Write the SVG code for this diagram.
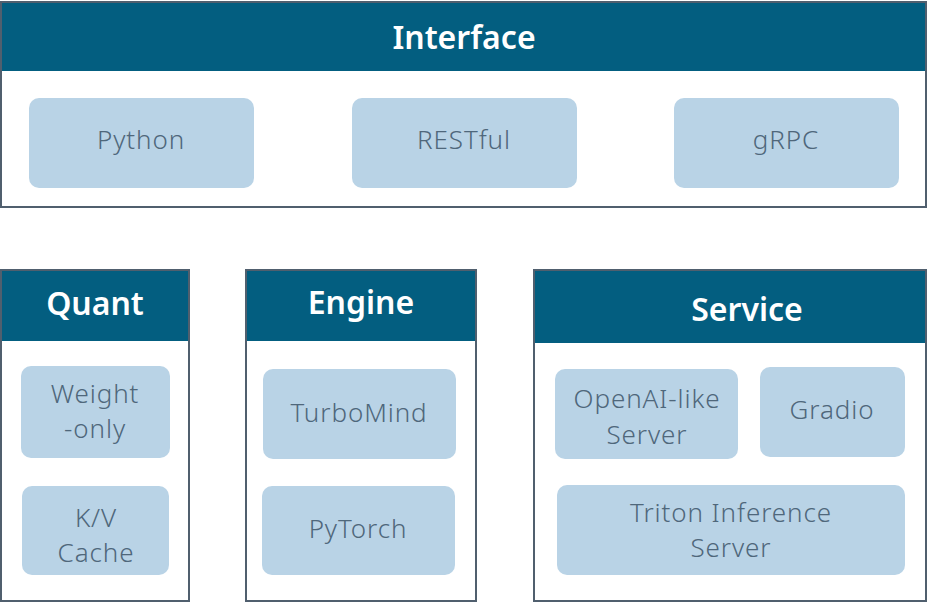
<svg xmlns="http://www.w3.org/2000/svg" width="928" height="602" viewBox="0 0 928 602">
<style>
.frame{fill:#ffffff;stroke:#505f6e;stroke-width:2}
.head{fill:#035e80}
.ht{font-family:"Noto Sans","Open Sans",sans-serif;font-weight:600;font-size:32px;fill:#ffffff;text-anchor:middle}
.box{fill:#b9d3e6}
.bt{font-family:"Noto Sans","Open Sans",sans-serif;font-weight:300;font-size:26px;letter-spacing:0.9px;fill:#4f677b;text-anchor:middle}
</style>
<rect width="928" height="602" fill="#ffffff"/>
<g id="interface">
<rect class="frame" x="1" y="2" width="925" height="205"/>
<rect class="head" x="2" y="3" width="923" height="68"/>
<text class="ht" x="464" y="49">Interface</text>
</g>
<g id="python"><rect class="box" x="29" y="98" width="225" height="90" rx="10"/><text class="bt" x="141" y="149">Python</text></g>
<g id="restful"><rect class="box" x="352" y="98" width="225" height="90" rx="10"/><text class="bt" x="464" y="149">RESTful</text></g>
<g id="grpc"><rect class="box" x="674" y="98" width="225" height="90" rx="10"/><text class="bt" x="786" y="149">gRPC</text></g>

<g id="quant">
<rect class="frame" x="1" y="270" width="188" height="331"/>
<rect class="head" x="2" y="271" width="186" height="70"/>
<text class="ht" x="95" y="315">Quant</text>
</g>
<g id="weight-only"><rect class="box" x="21" y="366" width="149" height="92" rx="10"/><text class="bt" x="95" y="403">Weight</text><text class="bt" x="95" y="438">-only</text></g>
<g id="kv-cache"><rect class="box" x="22" y="486" width="147" height="89" rx="10"/><text class="bt" x="96" y="527">K/V</text><text class="bt" x="96" y="562">Cache</text></g>

<g id="engine">
<rect class="frame" x="246" y="270" width="230" height="331"/>
<rect class="head" x="247" y="271" width="228" height="70"/>
<text class="ht" x="361" y="314">Engine</text>
</g>
<g id="turbomind"><rect class="box" x="263" y="369" width="193" height="90" rx="10"/><text class="bt" x="359" y="422">TurboMind</text></g>
<g id="pytorch"><rect class="box" x="262" y="486" width="193" height="89" rx="10"/><text class="bt" x="358" y="538">PyTorch</text></g>

<g id="service">
<rect class="frame" x="534" y="270" width="392" height="331"/>
<rect class="head" x="535" y="271" width="390" height="72"/>
<text class="ht" x="747" y="321">Service</text>
</g>
<g id="openai"><rect class="box" x="555" y="369" width="183" height="90" rx="10"/><text class="bt" x="647" y="408">OpenAI-like</text><text class="bt" x="647" y="444">Server</text></g>
<g id="gradio"><rect class="box" x="760" y="367" width="145" height="90" rx="10"/><text class="bt" x="832" y="419">Gradio</text></g>
<g id="triton"><rect class="box" x="557" y="485" width="348" height="90" rx="10"/><text class="bt" x="731" y="522">Triton Inference</text><text class="bt" x="731" y="557">Server</text></g>
<g id="connectors"></g>
</svg>
